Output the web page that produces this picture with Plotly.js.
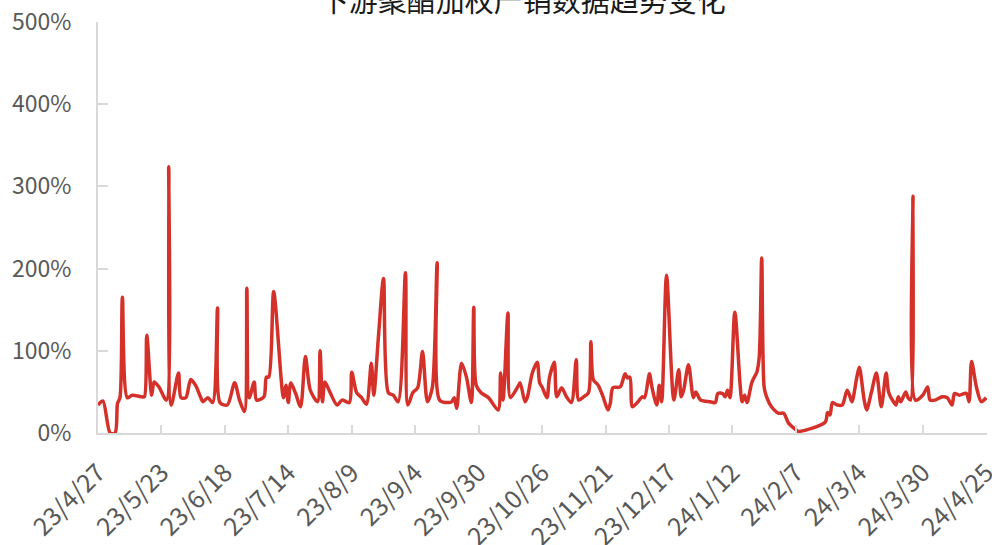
<!DOCTYPE html>
<html>
<head>
<meta charset="utf-8">
<script src="https://cdn.plot.ly/plotly-3.0.1.min.js"></script>
<style>html,body{margin:0;padding:0;background:#fff;}#chart{width:992px;height:545px;}</style>
</head>
<body>
<div id="chart"></div>
<script>
const chartTitle = "下游聚酯加权产销数据趋势变化";

const dates = [
"2023-04-27","2023-04-29","2023-05-02","2023-05-04","2023-05-05","2023-05-06","2023-05-07","2023-05-09","2023-05-11","2023-05-15",
"2023-05-16","2023-05-17","2023-05-19","2023-05-20","2023-05-22","2023-05-25","2023-05-26","2023-05-27","2023-05-30","2023-05-31",
"2023-06-02","2023-06-04","2023-06-06","2023-06-08","2023-06-09","2023-06-11","2023-06-13","2023-06-15","2023-06-16","2023-06-19",
"2023-06-22","2023-06-24","2023-06-26","2023-06-27","2023-06-28","2023-06-30","2023-07-01","2023-07-04","2023-07-05","2023-07-06",
"2023-07-08","2023-07-12","2023-07-13","2023-07-14","2023-07-15","2023-07-17","2023-07-19","2023-07-21","2023-07-23","2023-07-26",
"2023-07-27","2023-07-28","2023-07-29","2023-07-31","2023-08-03","2023-08-05","2023-08-08","2023-08-09","2023-08-11","2023-08-13",
"2023-08-15","2023-08-17","2023-08-18","2023-08-20","2023-08-22","2023-08-24","2023-08-26","2023-08-28","2023-08-31","2023-09-01",
"2023-09-03","2023-09-05","2023-09-07","2023-09-09","2023-09-11","2023-09-13","2023-09-14","2023-09-18","2023-09-19","2023-09-20",
"2023-09-21","2023-09-23","2023-09-25","2023-09-27","2023-09-28","2023-09-29","2023-10-01","2023-10-04","2023-10-08","2023-10-09",
"2023-10-10","2023-10-12","2023-10-13","2023-10-16","2023-10-17","2023-10-19","2023-10-20","2023-10-22","2023-10-24","2023-10-25",
"2023-10-26","2023-10-28","2023-10-29","2023-10-31","2023-11-01","2023-11-03","2023-11-05","2023-11-07","2023-11-09","2023-11-10",
"2023-11-12","2023-11-14","2023-11-15","2023-11-16","2023-11-18","2023-11-20","2023-11-22","2023-11-23","2023-11-24","2023-11-27",
"2023-11-29","2023-11-30","2023-12-01","2023-12-02","2023-12-04","2023-12-06","2023-12-07","2023-12-09","2023-12-10","2023-12-12",
"2023-12-13","2023-12-14","2023-12-16","2023-12-19","2023-12-21","2023-12-22","2023-12-23","2023-12-25","2023-12-27","2023-12-28",
"2023-12-30","2024-01-03","2024-01-05","2024-01-06","2024-01-08","2024-01-09","2024-01-10","2024-01-11","2024-01-13","2024-01-16",
"2024-01-17","2024-01-18","2024-01-20","2024-01-22","2024-01-23","2024-01-24","2024-01-25","2024-01-26","2024-01-28","2024-01-31",
"2024-02-02","2024-02-04","2024-02-07","2024-02-08","2024-02-19","2024-02-20","2024-02-21","2024-02-22","2024-02-24","2024-02-26",
"2024-02-28","2024-02-29","2024-03-01","2024-03-03","2024-03-04","2024-03-06","2024-03-07","2024-03-09","2024-03-11","2024-03-13",
"2024-03-15","2024-03-16","2024-03-18","2024-03-19","2024-03-20","2024-03-21","2024-03-23","2024-03-24","2024-03-25","2024-03-26",
"2024-03-27","2024-03-30","2024-04-01","2024-04-02","2024-04-04","2024-04-07","2024-04-09","2024-04-11","2024-04-12","2024-04-14",
"2024-04-16","2024-04-17","2024-04-18","2024-04-19","2024-04-21","2024-04-23","2024-04-25"
];

const salesRatio = [
34,39,0,0,36,43,165,43,46,44,
44,119,46,62,56,40,324,34,73,43,
43,65,58,44,38,43,37,152,37,34,
61,40,26,176,43,62,40,44,68,68,
172,43,58,37,61,48,32,93,52,38,
100,38,62,50,34,40,37,74,49,43,
35,85,46,120,188,49,46,38,195,34,
49,55,99,38,55,207,40,37,38,43,
30,85,68,37,153,58,49,43,28,73,
40,146,43,56,61,38,44,73,86,61,
56,43,67,86,44,55,44,37,89,40,
44,49,111,65,58,44,28,37,55,56,
72,67,68,32,37,44,43,72,56,34,
58,38,192,40,77,44,52,83,43,50,
40,38,37,48,48,44,52,43,147,38,
46,37,62,74,93,213,56,44,32,24,
24,12,4,2,13,25,22,37,34,34,
52,46,38,68,80,40,28,50,73,32,
73,50,38,34,44,38,50,43,40,288,
40,46,56,40,40,44,43,34,48,46,
48,48,38,87,56,38,43
];

const tickDates = ["2023-04-27","2023-05-23","2023-06-18","2023-07-14","2023-08-09","2023-09-04","2023-09-30","2023-10-26","2023-11-21","2023-12-17","2024-01-12","2024-02-07","2024-03-04","2024-03-30","2024-04-25"];
const tickLabels = ["23/4/27","23/5/23","23/6/18","23/7/14","23/8/9","23/9/4","23/9/30","23/10/26","23/11/21","23/12/17","24/1/12","24/2/7","24/3/4","24/3/30","24/4/25"];
const yTickVals = [0,100,200,300,400,500];
const yTickLabels = ["0%","100%","200%","300%","400%","500%"];

const trace = {
  x: dates,
  y: salesRatio,
  type: "scatter",
  mode: "lines",
  line: {color: "#D4312A", width: 3.5, shape: "spline", smoothing: 0.8},
  hoverinfo: "x+y"
};

const layout = {
  width: 992, height: 545,
  margin: {l: 98, r: 5, t: 22, b: 112},
  paper_bgcolor: "#ffffff", plot_bgcolor: "#ffffff",
  showlegend: false,
  title: {
    text: chartTitle,
    font: {family: "Noto Sans CJK SC", size: 29, color: "#1a1a1a"},
    xref: "container", x: 0.527, xanchor: "center",
    yref: "container", y: 0.996, yanchor: "middle"
  },
  xaxis: {
    type: "date",
    range: ["2023-04-27", "2024-04-25 08:00"],
    tickmode: "array", tickvals: tickDates, ticktext: tickLabels,
    tickangle: -45,
    ticklabeloverflow: "allow",
    ticks: "inside", ticklen: 8, tickwidth: 2, tickcolor: "#d9d9d9",
    showline: true, linecolor: "#d9d9d9", linewidth: 2,
    showgrid: false, zeroline: false,
    tickfont: {family: "Noto Sans CJK SC", size: 25, color: "#595959"},
    ticklabelstandoff: 13
  },
  yaxis: {
    range: [0, 500],
    tickmode: "array", tickvals: yTickVals, ticktext: yTickLabels,
    ticks: "inside", ticklen: 10, tickwidth: 2, tickcolor: "#d9d9d9",
    showline: true, linecolor: "#d9d9d9", linewidth: 2,
    showgrid: false, zeroline: false,
    tickfont: {family: "Noto Sans CJK SC", size: 23, color: "#595959"},
    ticklabelstandoff: 20
  }
};

Plotly.newPlot("chart", [trace], layout, {staticPlot: true, displayModeBar: false});
</script>
</body>
</html>
